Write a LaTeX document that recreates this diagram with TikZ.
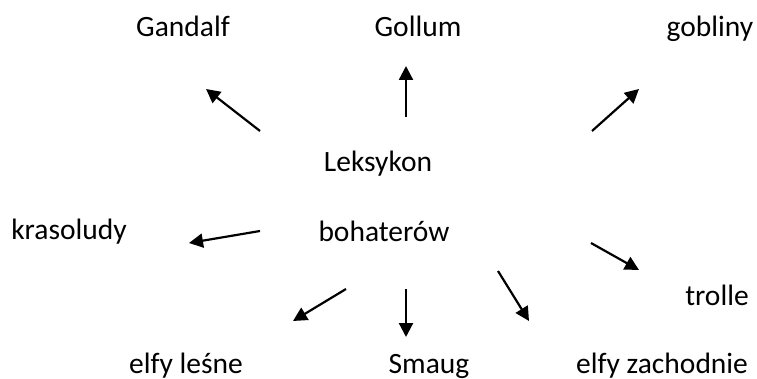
\documentclass[tikz,border=0pt]{standalone}
\usepackage{fontspec}
\setmainfont{Carlito}
\usetikzlibrary{arrows.meta}
\begin{document}
\begin{tikzpicture}[x=1pt,y=-1pt,
  lbl/.style={font=\fontsize{29.5}{31}\selectfont, inner sep=0pt, anchor=base},
  arr/.style={line width=2.2pt, -{Triangle[length=14pt,width=14pt]}}]
\useasboundingbox (0,0) rectangle (757,379);
\node[lbl] (gandalf) at (183,37) {Gandalf};
\node[lbl] (gollum) at (418,37) {Gollum};
\node[lbl] (gobliny) at (710,37) {gobliny};
\node[lbl] (leks) at (378,172) {Leksykon};
\node[lbl] (boh) at (384,242) {bohaterów};
\node[lbl] (kraso) at (69,240) {krasoludy};
\node[lbl] (trolle) at (717,305) {trolle};
\node[lbl] (elfyl) at (186,373) {elfy leśne};
\node[lbl] (smaug) at (429,373) {Smaug};
\node[lbl] (elfyz) at (662,373) {elfy zachodnie};
\coordinate (s1) at (260,131); \coordinate (t1) at (206,89);
\coordinate (s2) at (406,117); \coordinate (t2) at (406,66);
\coordinate (s3) at (592,131); \coordinate (t3) at (639,89);
\coordinate (s4) at (260,231); \coordinate (t4) at (189,243);
\coordinate (s5) at (346,289); \coordinate (t5) at (293,321);
\coordinate (s6) at (406,289); \coordinate (t6) at (406,337);
\coordinate (s7) at (498,271); \coordinate (t7) at (529,321);
\coordinate (s8) at (591,243); \coordinate (t8) at (639,270);
\foreach \i in {1,...,8} \draw[arr] (s\i) -- (t\i);
\end{tikzpicture}
\end{document}
